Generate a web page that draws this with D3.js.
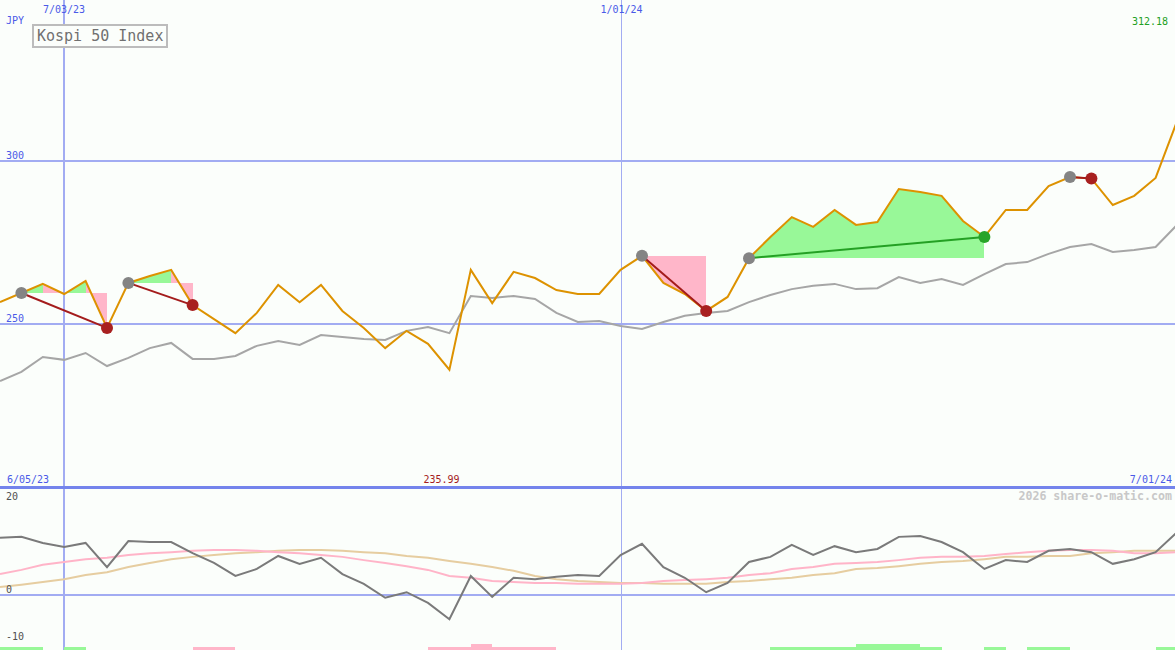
<!DOCTYPE html>
<html><head><meta charset="utf-8">
<script src="https://cdn.jsdelivr.net/npm/d3@7"></script>
<style>html,body{margin:0;padding:0;background:#fbfefb;overflow:hidden}svg{display:block}</style>
</head><body>
<script>
// ---------- DATA ----------
const startDate = "2023-06-12";           // first weekly close
const weekCount = 56;
const gridDates = ["2023-07-03", "2024-01-01"];
const gridLabels = ["7/03/23", "1/01/24"];
const priceTicks = [250, 300];
const oscTicks = [20, 0, -10];
const title = "Kospi 50 Index";
const currency = "JPY";
const maxLabel = "312.18";
const minLabel = "235.99";
const rangeStartLabel = "6/05/23";
const rangeEndLabel = "7/01/24";
const credit = "2026 share-o-matic.com";

const price = [256.7,259.5,262.3,259.2,263.2,248.8,262.6,264.7,266.6,255.8,
  251.5,247.2,253.4,262.0,256.7,262.0,254.0,248.8,242.6,247.9,
  243.9,235.99,266.6,256.4,266.0,264.1,260.4,259.2,259.2,266.6,
  270.9,262.6,259.2,254.0,258.3,270.2,276.7,282.8,279.8,285.0,
  280.4,281.3,291.4,290.5,289.3,281.6,276.7,285.0,285.0,292.3,
  295.1,294.6,286.5,289.3,294.8,312.18];
const comparison = [232.5,235.3,239.9,239.0,241.1,237.1,239.6,242.6,244.2,239.3,
  239.3,240.2,243.3,244.8,243.6,246.6,246.0,245.4,245.1,247.9,
  249.1,247.2,258.6,258.0,258.6,257.7,253.4,250.6,250.9,249.4,
  248.5,250.6,252.5,253.4,254.0,256.7,258.9,260.7,261.7,262.3,
  260.7,261.0,264.4,262.6,263.8,262.0,265.3,268.4,269.0,271.5,
  273.6,274.5,272.1,272.7,273.6,280.4];
const momentum = [12.3,12.5,11.2,10.3,11.2,6.0,11.6,11.4,11.4,9.0,
  6.9,4.1,5.6,8.4,6.7,8.0,4.5,2.4,-0.6,0.6,
  -1.7,-5.2,4.1,-0.4,3.7,3.4,3.9,4.3,4.1,8.6,
  11.0,6.0,3.7,0.6,2.6,7.1,8.2,10.8,8.6,10.5,
  9.2,9.9,12.5,12.7,11.4,9.2,5.6,7.5,7.1,9.5,
  9.9,9.2,6.7,7.7,9.2,13.5];
const signalFast = [4.5,5.4,6.5,7.1,7.7,8.0,8.6,9.0,9.2,9.5,
  9.7,9.7,9.5,9.2,9.0,8.6,8.2,7.5,6.9,6.2,
  5.4,4.1,3.7,3.0,2.8,2.6,2.6,2.4,2.4,2.4,
  2.6,3.0,3.2,3.4,3.7,4.3,4.7,5.6,6.0,6.7,
  6.9,7.1,7.5,8.0,8.2,8.2,8.4,8.8,9.2,9.5,
  9.7,9.7,9.5,9.0,9.0,9.2];
const signalSlow = [1.7,2.2,2.8,3.4,4.3,4.9,6.0,6.9,7.7,8.2,
  8.6,9.0,9.2,9.5,9.7,9.7,9.5,9.2,9.0,8.4,
  8.0,7.3,6.7,6.0,5.2,4.1,3.4,3.0,2.8,2.6,
  2.6,2.4,2.4,2.4,2.8,3.0,3.4,3.7,4.3,4.7,
  5.6,5.8,6.2,6.7,7.1,7.3,7.7,8.2,8.2,8.4,
  8.4,9.0,9.2,9.5,9.5,9.5];
// per-week trend strip (+ up, - down), index = segment start week
const trendStrip = [1,1,0,1,0,0,0,0,0,-1,
  -1,0,0,0,0,0,0,0,0,0,
  -1,-1,-2,-1,-1,-1,0,0,0,0,
  0,0,0,0,0,0,1,1,1,1,
  2,2,2,1,0,0,1,0,1,1,
  0,0,0,0,1];
const tradeEntry = [1, 6, 30, 35, 50];
const tradeExit  = [5, 9, 33, 46, 51];

// ---------- CHART ----------
const W = 1175, H = 650;
const parse = d3.utcParse("%Y-%m-%d");
const t0 = parse(startDate);
const dates = d3.range(weekCount).map(i => d3.utcDay.offset(t0, 7 * i));

const x = d3.scaleUtc().domain([dates[0], dates[weekCount - 1]]).range([0, 1177]);
const y = d3.scaleLinear().domain([250, 300]).range([324, 161]);
const yo = d3.scaleLinear().domain([-10, 20]).range([641.5, 502]);
const hStrip = d3.scaleLinear().domain([0, 2]).range([0, 6.5]);

const svg = d3.select("body").append("svg").attr("width", W).attr("height", H)
  .style("font-family", "'DejaVu Sans Mono', monospace");
svg.append("rect").attr("width", W).attr("height", H).attr("fill", "#fbfefb");

const defs = svg.append("defs");
defs.append("clipPath").attr("id", "cTop").append("rect").attr("x", 0).attr("y", 0).attr("width", W).attr("height", 486);
defs.append("clipPath").attr("id", "cBot").append("rect").attr("x", 0).attr("y", 489).attr("width", W).attr("height", H - 489);

const gridC = "#a2acf2";
gridDates.forEach((d, k) => {
  const gx = Math.round(x(parse(d))) + (k === 0 ? 0 : 0.5);
  svg.append("line").attr("x1", gx).attr("x2", gx).attr("y1", 0).attr("y2", H)
    .attr("stroke", gridC).attr("stroke-width", k === 0 ? 2 : 1);
  svg.append("text").attr("x", gx).attr("y", 13).attr("text-anchor", "middle")
    .attr("font-size", 10).attr("fill", "#4a5ae8").text(gridLabels[k]);
});
priceTicks.forEach(v => {
  svg.append("line").attr("x1", 0).attr("x2", W).attr("y1", y(v)).attr("y2", y(v))
    .attr("stroke", gridC).attr("stroke-width", 2);
  svg.append("text").attr("x", 6).attr("y", y(v) - 2).attr("font-size", 10)
    .attr("fill", "#4a5ae8").text(v);
});
svg.append("line").attr("x1", 0).attr("x2", W).attr("y1", yo(0)).attr("y2", yo(0))
  .attr("stroke", gridC).attr("stroke-width", 2);
svg.append("line").attr("x1", 0).attr("x2", W).attr("y1", 487.5).attr("y2", 487.5)
  .attr("stroke", "#7484ec").attr("stroke-width", 3);

const gTop = svg.append("g").attr("clip-path", "url(#cTop)");

tradeEntry.forEach((e, k) => {
  const ex = tradeExit[k];
  const L = price[e];
  for (let i = e; i < ex; i++) {
    const pts = [[x(dates[i]), y(L)], [x(dates[i]), y(price[i])],
                 [x(dates[i + 1]), y(price[i + 1])], [x(dates[i + 1]), y(L)]];
    gTop.append("path").attr("d", "M" + pts.join("L") + "Z")
      .attr("fill", price[i + 1] >= L ? "#98f898" : "#ffb6c9").attr("stroke", "none")
      .attr("shape-rendering", "crispEdges");
  }
});

const line = (arr, ys) => d3.line().x((d, i) => x(dates[i])).y(d => ys(d))(arr);
gTop.append("path").attr("d", line(comparison, y)).attr("fill", "none")
  .attr("stroke", "#a6a6a6").attr("stroke-width", 2);
gTop.append("path").attr("d", line(price, y)).attr("fill", "none")
  .attr("stroke", "#dd9200").attr("stroke-width", 2);

tradeEntry.forEach((e, k) => {
  const ex = tradeExit[k];
  const win = price[ex] >= price[e];
  const col = win ? "#24a024" : "#a41c1c";
  gTop.append("line").attr("x1", x(dates[e])).attr("y1", y(price[e]))
    .attr("x2", x(dates[ex])).attr("y2", y(price[ex]))
    .attr("stroke", col).attr("stroke-width", 2);
  gTop.append("circle").attr("cx", x(dates[e])).attr("cy", y(price[e])).attr("r", 6)
    .attr("fill", "#848484");
  gTop.append("circle").attr("cx", x(dates[ex])).attr("cy", y(price[ex])).attr("r", 6)
    .attr("fill", win ? "#28a428" : "#a82020");
});

svg.append("text").attr("x", 6).attr("y", 24).attr("font-size", 10).attr("fill", "#4a5ae8").text(currency);
svg.append("rect").attr("x", 33).attr("y", 25).attr("width", 134).attr("height", 22)
  .attr("fill", "#fbfefb").attr("stroke", "#bcbcbc").attr("stroke-width", 2);
svg.append("text").attr("x", 37).attr("y", 41).attr("font-size", 15).attr("fill", "#707070").text(title);
svg.append("text").attr("x", 1168).attr("y", 25).attr("text-anchor", "end").attr("font-size", 10)
  .attr("fill", "#22a022").text(maxLabel);

svg.append("text").attr("x", 7).attr("y", 483).attr("font-size", 10).attr("fill", "#4a5ae8").text(rangeStartLabel);
svg.append("text").attr("x", x(dates[price.indexOf(d3.min(price))]) - 26).attr("y", 483)
  .attr("font-size", 10).attr("fill", "#a41c1c").text(minLabel);
svg.append("text").attr("x", 1172).attr("y", 483).attr("text-anchor", "end").attr("font-size", 10)
  .attr("fill", "#4a5ae8").text(rangeEndLabel);
svg.append("text").attr("x", 1172).attr("y", 500).attr("text-anchor", "end").attr("font-size", 11.6)
  .attr("font-weight", "bold").attr("fill", "#c8c8c8").text(credit);

const gBot = svg.append("g").attr("clip-path", "url(#cBot)");
oscTicks.forEach(v => {
  svg.append("text").attr("x", 6).attr("y", Math.min(yo(v) - 2, 646)).attr("font-size", 10)
    .attr("fill", "#505050").text(v);
});
gBot.append("path").attr("d", line(signalSlow, yo)).attr("fill", "none").attr("stroke", "#e6cda0").attr("stroke-width", 2);
gBot.append("path").attr("d", line(signalFast, yo)).attr("fill", "none").attr("stroke", "#ffb4c8").attr("stroke-width", 2);
gBot.append("path").attr("d", line(momentum, yo)).attr("fill", "none").attr("stroke", "#7a7a7a").attr("stroke-width", 2);

trendStrip.forEach((v, i) => {
  if (!v) return;
  const h = hStrip(Math.abs(v));
  gBot.append("rect").attr("x", x(dates[i])).attr("width", x(dates[i + 1]) - x(dates[i]))
    .attr("y", H - h).attr("height", h).attr("fill", v > 0 ? "#98f898" : "#ffb6c9")
    .attr("shape-rendering", "crispEdges");
});
</script>
</body></html>
